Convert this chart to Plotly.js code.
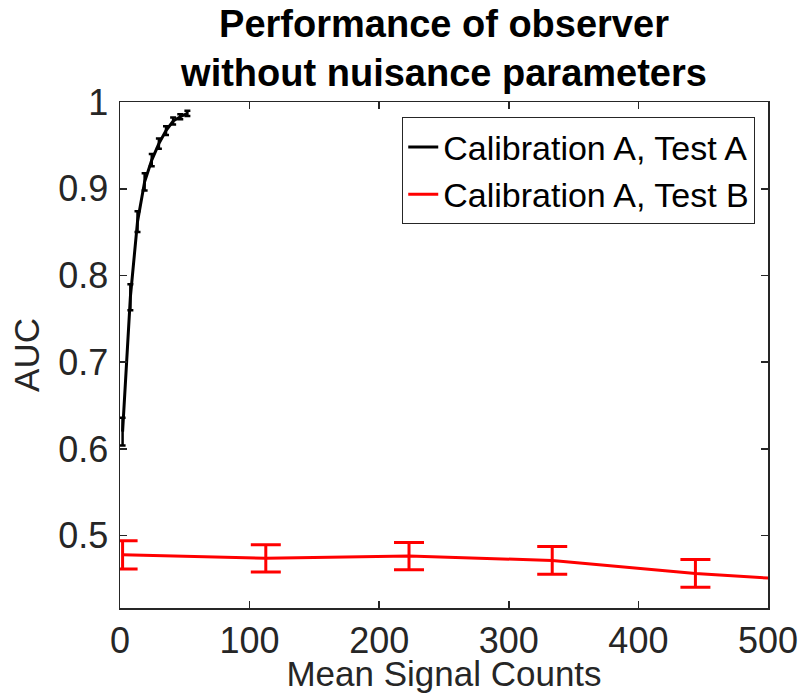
<!DOCTYPE html>
<html>
<head>
<meta charset="utf-8">
<script src="https://cdn.plot.ly/plotly-3.0.1.min.js"></script>
<style>html,body{margin:0;padding:0;background:#fff;}#chart{width:802px;height:693px;}</style>
</head>
<body>
<div id="chart"></div>
<script>
// Calibration A, Test A (black)
const countsA = [2, 8, 13.5, 19, 24.5, 30, 35.5, 41, 46.5, 52];
const aucA    = [0.620, 0.775, 0.862, 0.908, 0.933, 0.952, 0.967, 0.978, 0.983, 0.987];
const errA    = [0.016, 0.015, 0.012, 0.010, 0.007, 0.006, 0.005, 0.004, 0.003, 0.003];
// Calibration A, Test B (red)
const countsB = [2, 112.5, 223, 333.5, 444, 555];
const aucB    = [0.4780, 0.4740, 0.4765, 0.4715, 0.4565, 0.4460];
const errB    = [0.0163, 0.0157, 0.0158, 0.0160, 0.0160, 0.0160];

const xTicks = [0, 100, 200, 300, 400, 500];
const yTicks = [0.5, 0.6, 0.7, 0.8, 0.9, 1];
const yTickText = ['0.5', '0.6', '0.7', '0.8', '0.9', '1'];
const xTitle = 'Mean Signal Counts';
const yTitle = 'AUC';

const FONT = 'Liberation Sans, Arial, Helvetica, sans-serif';
const TXT = '#262626';

const traces = [
  {
    x: countsA, y: aucA, name: 'Calibration A, Test A', type: 'scatter', mode: 'lines',
    line: {color: '#000000', width: 3},
    error_y: {type: 'data', array: errA, visible: true, color: '#000000', thickness: 2.5, width: 3},
    cliponaxis: true
  },
  {
    x: countsB, y: aucB, name: 'Calibration A, Test B', type: 'scatter', mode: 'lines',
    line: {color: '#ff0000', width: 3},
    error_y: {type: 'data', array: errB, visible: true, color: '#ff0000', thickness: 3, width: 15},
    cliponaxis: true
  }
];

const axisCommon = {
  showline: true, linecolor: TXT, linewidth: 1.5, mirror: 'ticks',
  ticks: 'inside', ticklen: 7, tickwidth: 1.5, tickcolor: TXT,
  showgrid: false, zeroline: false,
  tickfont: {family: FONT, size: 36, color: TXT}
};

const layout = {
  width: 802, height: 693,
  paper_bgcolor: '#ffffff', plot_bgcolor: '#ffffff',
  margin: {l: 120, r: 34, t: 102, b: 85},
  showlegend: true,
  title: {
    text: '<b>Performance of observer<br>without nuisance parameters</b>',
    font: {family: FONT, size: 38, color: '#000000'},
    x: 0.5, xref: 'paper', xanchor: 'center',
    y: 0.947, yref: 'container', yanchor: 'top'
  },
  xaxis: Object.assign({}, axisCommon, {
    range: [0, 500], tickvals: xTicks, ticktext: xTicks.map(String),
    ticklabelstandoff: 0,
    title: {text: xTitle, font: {family: FONT, size: 35, color: TXT}, standoff: 0}
  }),
  yaxis: Object.assign({}, axisCommon, {
    range: [0.4167, 1.0], tickvals: yTicks, ticktext: yTickText,
    ticklabelstandoff: 3,
    title: {text: yTitle, font: {family: FONT, size: 35, color: TXT}, standoff: 8}
  }),
  legend: {
    x: 0.98, y: 0.97, xanchor: 'right', yanchor: 'top',
    bgcolor: '#ffffff', bordercolor: TXT, borderwidth: 1.2,
    font: {family: FONT, size: 34, color: '#000000'},
    tracegroupgap: 0, itemwidth: 30
  }
};

Plotly.newPlot('chart', traces, layout, {displayModeBar: false, staticPlot: true});
</script>
</body>
</html>
